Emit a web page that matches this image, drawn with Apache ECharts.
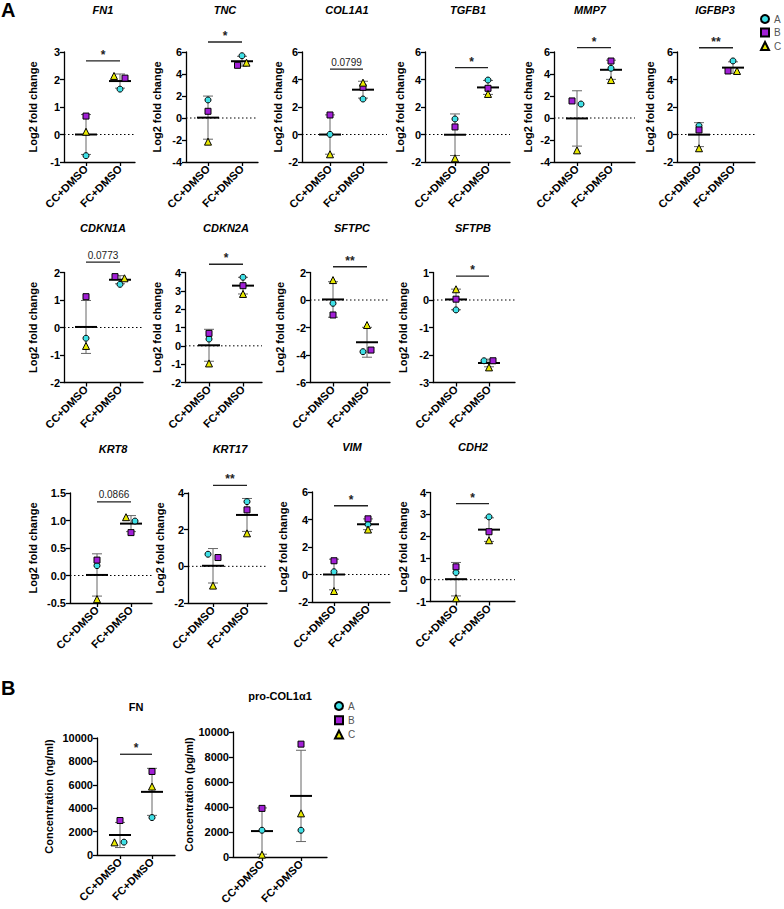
<!DOCTYPE html>
<html><head><meta charset="utf-8">
<script src="https://cdn.jsdelivr.net/npm/echarts@6/dist/echarts.min.js"></script>
<style>html,body{margin:0;padding:0;background:#fff}#c{width:784px;height:909px}</style>
</head><body><div id="c"></div>
<script>
// ---------- DATA ----------
const groups = ['CC+DMSO', 'FC+DMSO'];
const replicates = ['A', 'B', 'C'];
const panels = ['FN1','TNC','COL1A1','TGFB1','MMP7','IGFBP3','CDKN1A','CDKN2A','SFTPC','SFTPB','KRT8','KRT17','VIM','CDH2','FN','pro-COL1α1'];
// replicate values per panel (same order as panels)
const ccA = [-0.77, 1.64, 0.01, 1.13, 1.27, 0.64, -0.39, 0.37, -0.24, -0.36, 0.18, 0.66, 0.20, 0.33, 1100, 2140];
const ccB = [ 0.67, 0.61, 1.42, 0.55, 1.55, 0.33,  1.12, 0.68, -1.09,  0.03, 0.28, 0.48, 1.00, 0.59, 2950, 3890];
const ccC = [ 0.10,-2.15,-1.44,-1.73,-2.94,-1.00, -0.67,-0.96,  1.45,  0.39,-0.43,-1.05,-1.20,-0.85, 1080,  190];
const fcA = [ 1.65, 5.66, 2.58, 3.96, 4.52, 5.35,  1.57, 3.74, -3.76, -2.21, 0.99, 3.53, 3.64, 2.88, 3200, 2140];
const fcB = [ 2.05, 4.79, 3.43, 3.36, 5.18, 4.62,  1.85, 3.28, -3.64, -2.21, 0.78, 3.08, 4.05, 2.20, 7140, 9030];
const fcC = [ 2.13, 5.03, 3.77, 2.95, 3.45, 4.62,  1.79, 2.83, -1.82, -2.45, 1.06, 1.80, 3.27, 1.81, 5850, 3490];
// y axis scales
const yMin  = [-1,-4,-2,-2,-4,-2, -2,-2,-6,-3, -0.5,-2,-2,-1, 0, 0];
const yMax  = [ 3, 6, 6, 6, 6, 6,  2, 4, 2, 1,  1.5, 4, 6, 4, 10000, 10000];
const yStep = [ 1, 2, 2, 2, 2, 2,  1, 1, 2, 1,  0.5, 2, 2, 1, 2000, 2000];
const yNames = ['Log2 fold change','Log2 fold change','Log2 fold change','Log2 fold change','Log2 fold change','Log2 fold change',
  'Log2 fold change','Log2 fold change','Log2 fold change','Log2 fold change','Log2 fold change','Log2 fold change','Log2 fold change','Log2 fold change',
  'Concentration (ng/ml)','Concentration (pg/ml)'];
// significance annotations
const sigLabel = ['*','*','0.0799','*','*','**','0.0773','*','**','*','0.0866','**','*','*','*',''];
const sigLevel = [2.68, 6.91, 4.76, 4.86, 6.39, 6.31, 2.38, 4.45, 2.42, 0.87, 1.34, 4.42, 5.0, 3.49, 8610, null];

// ---------- LAYOUT (pixels) ----------
const layout = [
  {left:64, top:52, h:110, end:135, c0:86, c1:120, nameX:33, tx:103, ty:10},
  {left:186,top:52, h:110, end:258, c0:208,c1:242, nameX:157,tx:225, ty:10},
  {left:302,top:52, h:110, end:387, c0:330,c1:363, nameX:278,tx:347, ty:10},
  {left:425,top:52, h:110, end:510, c0:455,c1:488, nameX:400,tx:468, ty:10},
  {left:554,top:52, h:110, end:635, c0:577,c1:611, nameX:528,tx:590, ty:10},
  {left:677,top:52, h:110, end:755, c0:699,c1:733, nameX:650,tx:715, ty:10},
  {left:64, top:272.5,h:110,end:143, c0:86, c1:120, nameX:33, tx:103, ty:228},
  {left:185,top:272.5,h:110,end:262, c0:209,c1:243, nameX:157,tx:226, ty:228},
  {left:310,top:272.5,h:110,end:390, c0:333,c1:367, nameX:280,tx:352, ty:228},
  {left:433,top:272.5,h:110,end:515, c0:456,c1:489, nameX:403,tx:473, ty:228},
  {left:70, top:493, h:110, end:152, c0:97, c1:131, nameX:33, tx:113, ty:449},
  {left:188,top:493, h:110, end:267, c0:213,c1:247, nameX:160,tx:230, ty:449},
  {left:312,top:492, h:110, end:390, c0:334,c1:368, nameX:283,tx:352, ty:447},
  {left:430,top:492.5,h:109,end:515, c0:456,c1:489, nameX:403,tx:473, ty:447},
  {left:97, top:738, h:117, end:175, c0:120,c1:152, nameX:49, tx:136, ty:707, plain:true},
  {left:233,top:732, h:125, end:327, c0:262,c1:301, nameX:192,tx:280, ty:696, plain:true}
];
// horizontal spreading of overlapping points (px), [A,B,C]
const spread = {
  0:{fc:[0,5,-6]}, 1:{fc:[0,-4.5,4.5]}, 4:{cc:[4,-5,0]}, 5:{fc:[0,-5,4]},
  6:{fc:[0,-5,4.5]}, 8:{fc:[-4,4,0]}, 9:{fc:[-5,4,0]}, 10:{fc:[4,0,-5]},
  11:{cc:[-5,5,0]}, 14:{cc:[4,0,-5.5]}
};

const FONT = 'Liberation Sans, Arial, Helvetica, sans-serif';
const colors = {A:'#3fe0e6', B:'#a21fd6', C:'#e8e800'};
const symbols = {A:'circle', B:'rect', C:'triangle'};
const sizes = {A:6, B:6, C:7};

const grids = [], xAxes = [], yAxes = [], series = [], graphics = [];

function meanSd(arr){
  const m = arr.reduce((a,b)=>a+b,0)/arr.length;
  const v = arr.reduce((a,b)=>a+(b-m)*(b-m),0)/(arr.length-1);
  return [m, Math.sqrt(v)];
}

panels.forEach((name, i) => {
  const L = layout[i];
  const u = L.c1 - L.c0;
  const xmin = -(L.c0 - L.left) / u, xmax = 1 + (L.end - L.c1) / u;
  grids.push({left:L.left, top:L.top, width:L.end - L.left, height:L.h});
  xAxes.push({
    type:'value', gridIndex:i, min:xmin, max:xmax,
    axisLine:{show:true, onZero:false, lineStyle:{color:'#000', width:1.3}},
    axisTick:{show:true, customValues:[0,1], length:4, lineStyle:{color:'#000', width:1.3}},
    axisLabel:{show:true, customValues:[0,1], rotate:45, margin:5, formatter:v => groups[Math.round(v)],
      color:'#000', fontWeight:'bold', fontSize:11, fontFamily:FONT},
    splitLine:{show:false}
  });
  yAxes.push({
    type:'value', gridIndex:i, min:yMin[i], max:yMax[i], interval:yStep[i],
    name:yNames[i], nameLocation:'middle', nameGap:L.left - L.nameX - 5,
    nameTextStyle:{color:'#000', fontWeight:'bold', fontSize:11, fontFamily:FONT},
    axisLine:{show:true, onZero:false, lineStyle:{color:'#000', width:1.3}},
    axisTick:{show:true, length:4, lineStyle:{color:'#000', width:1.3}},
    axisLabel:{show:true, margin:4, color:'#000', fontWeight:'bold', fontSize:11, fontFamily:FONT,
      formatter: v => (yStep[i] < 1 ? v.toFixed(1) : String(v))},
    splitLine:{show:false}
  });
  const cc = [ccA[i], ccB[i], ccC[i]];
  const fc = [fcA[i], fcB[i], fcC[i]];
  const s1 = meanSd(cc), s2 = meanSd(fc);
  const hasZero = yMin[i] < 0;
  series.push({
    type:'custom', xAxisIndex:i, yAxisIndex:i, z:2, silent:true, clip:false,
    data:[[0, s1[0], s1[1]], [1, s2[0], s2[1]]],
    renderItem:(params, api) => {
      const x = api.value(0), m = api.value(1), s = api.value(2);
      const pm = api.coord([x, m]), pt = api.coord([x, m + s]), pb = api.coord([x, m - s]);
      const ch = [];
      if (hasZero && params.dataIndex === 0) {
        const cs = params.coordSys, zy = api.coord([0, 0])[1];
        ch.push({type:'line', shape:{x1:cs.x, y1:zy, x2:cs.x + cs.width, y2:zy},
          style:{stroke:'#000', lineWidth:1, lineDash:[1.5, 2.5]}});
      }
      const gs = {stroke:'#666', lineWidth:1};
      ch.push({type:'line', shape:{x1:pm[0], y1:pt[1], x2:pm[0], y2:pb[1]}, style:gs});
      ch.push({type:'line', shape:{x1:pm[0]-5, y1:pt[1], x2:pm[0]+5, y2:pt[1]}, style:gs});
      ch.push({type:'line', shape:{x1:pm[0]-5, y1:pb[1], x2:pm[0]+5, y2:pb[1]}, style:gs});
      ch.push({type:'line', shape:{x1:pm[0]-11, y1:pm[1], x2:pm[0]+11, y2:pm[1]}, style:{stroke:'#000', lineWidth:2}});
      return {type:'group', children:ch};
    }
  });
  if (sigLevel[i] !== null) {
    const lab = sigLabel[i];
    const isStar = lab.indexOf('*') >= 0;
    series.push({
      type:'custom', xAxisIndex:i, yAxisIndex:i, z:2, silent:true, clip:false,
      data:[[0, sigLevel[i]]],
      renderItem:(params, api) => {
        const p0 = api.coord([0, api.value(1)]), p1 = api.coord([1, api.value(1)]);
        return {type:'group', children:[
          {type:'line', shape:{x1:p0[0], y1:p0[1], x2:p1[0], y2:p1[1]}, style:{stroke:'#222', lineWidth:1.3}},
          {type:'text', style:{text:lab, x:(p0[0]+p1[0])/2, y:p0[1] - (isStar ? 0 : 2),
            textAlign:'center', textVerticalAlign:'bottom', fill:'#222',
            font:(isStar ? 'bold 12px ' : '10px ') + FONT}}
        ]};
      }
    });
  }
  const sp = spread[i] || {};
  replicates.forEach((r, k) => {
    const dcc = sp.cc ? sp.cc[k] : 0, dfc = sp.fc ? sp.fc[k] : 0;
    series.push({
      type:'scatter', name:r, xAxisIndex:i, yAxisIndex:i, z:3, silent:true,
      symbol:symbols[r], symbolSize:sizes[r],
      itemStyle:{color:colors[r], borderColor:'#000', borderWidth:1, opacity:1},
      data:[{value:[0, cc[k]], symbolOffset:[dcc, 0]}, {value:[1, fc[k]], symbolOffset:[dfc, 0]}]
    });
  });
  graphics.push({type:'text', style:{text:name, x:L.tx, y:L.ty,
    textAlign:'center', textVerticalAlign:'middle', fill:'#000',
    font:(L.plain ? 'bold 11px ' : 'italic bold 11px ') + FONT}});
});

graphics.push({type:'text', style:{text:'A', x:1, y:10, textVerticalAlign:'middle', fill:'#000', font:'bold 20px ' + FONT}});
graphics.push({type:'text', style:{text:'B', x:1, y:688, textVerticalAlign:'middle', fill:'#000', font:'bold 20px ' + FONT}});

const legendData = [{name:'A', icon:'circle'}, {name:'B', icon:'rect'}, {name:'C', icon:'triangle'}];
const legendCommon = {orient:'vertical', data:legendData, selectedMode:false, itemWidth:8, itemHeight:8, padding:0,
  textStyle:{color:'#555', fontSize:10, lineHeight:10, fontFamily:FONT}};

const chart = echarts.init(document.getElementById('c'), null, {renderer:'svg', width:784, height:909});
chart.setOption({
  animation:false,
  backgroundColor:'#fff',
  grid:grids, xAxis:xAxes, yAxis:yAxes, series:series,
  legend:[
    Object.assign({left:760, top:14, itemGap:3.5}, legendCommon),
    Object.assign({left:334, top:701, itemGap:4.3}, legendCommon)
  ],
  graphic:{elements:graphics}
});
</script></body></html>
